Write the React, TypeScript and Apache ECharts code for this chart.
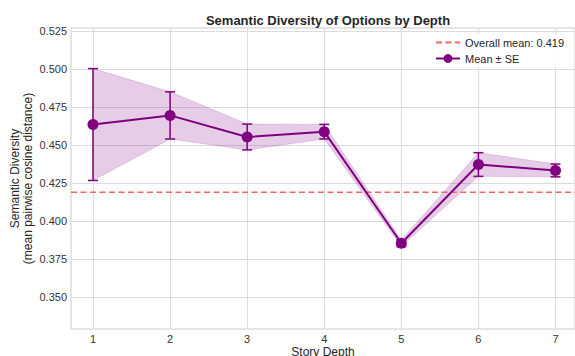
import React, { useEffect, useRef } from "react";
import * as echarts from "echarts";

const depths = [1, 2, 3, 4, 5, 6, 7];
const means = [0.4635, 0.4695, 0.4553, 0.4588, 0.3854, 0.4372, 0.4333];
const ses = [0.0368, 0.0155, 0.0085, 0.0048, 0.0022, 0.0078, 0.0042];
const overallMean = 0.419;
const yTicks = [0.35, 0.375, 0.4, 0.425, 0.45, 0.475, 0.5, 0.525];
const xTicks = [1, 2, 3, 4, 5, 6, 7];

const X_MIN = 0.7146;
const X_MAX = 7.253;
const Y_MIN = 0.329;
const Y_MAX = 0.527;

const PURPLE = "#800080";
const FONT = "Liberation Sans";

export default function App() {
  const ref = useRef<HTMLDivElement>(null);
  useEffect(() => {
    if (!ref.current) return;
    const chart = echarts.init(ref.current, undefined, { renderer: "svg" });
    const meanData = depths.map((d, i) => [d, means[i]]);
    const errData = depths.map((d, i) => [d, means[i] - ses[i], means[i] + ses[i]]);
    const meanName = `Overall mean: ${overallMean.toFixed(3)}`;
    chart.setOption({
      animation: false,
      backgroundColor: "#fff",
      textStyle: { fontFamily: FONT },
      title: {
        text: "Semantic Diversity of Options by Depth",
        left: 323,
        textAlign: "center",
        top: 9,
        textStyle: { fontFamily: FONT, fontSize: 13, fontWeight: "bold", color: "#262626" },
      },
      legend: {
        orient: "vertical",
        left: 431,
        top: 34,
        itemWidth: 24,
        itemHeight: 11,
        itemGap: 5,
        padding: [3, 10, 3, 4],
        backgroundColor: "rgba(255,255,255,0.9)",
        textStyle: { fontFamily: FONT, fontSize: 11, color: "#262626" },
        data: [
          { name: meanName, itemStyle: { opacity: 0 } },
          { name: "Mean ± SE" },
        ],
      },
      grid: {
        left: 71,
        right: 0,
        top: 28,
        bottom: 27,
        outerBoundsMode: "none",
        containLabel: false,
        show: true,
        borderColor: "#cccccc",
        borderWidth: 1,
        backgroundColor: "#fff",
      },
      xAxis: {
        type: "value",
        min: X_MIN,
        max: X_MAX,
        name: "Story Depth",
        nameLocation: "middle",
        nameGap: 17,
        nameMoveOverlap: false,
        nameTextStyle: { fontFamily: FONT, fontSize: 12, color: "#262626" },
        axisLine: { show: false },
        axisTick: { show: false, customValues: xTicks },
        axisLabel: {
          customValues: xTicks,
          fontFamily: FONT,
          fontSize: 11,
          color: "#333",
          margin: 4,
        },
        splitLine: { show: true, lineStyle: { color: "#dcdcdc", width: 1 } },
      },
      yAxis: {
        type: "value",
        min: Y_MIN,
        max: Y_MAX,
        name: "Semantic Diversity\n(mean pairwise cosine distance)",
        nameLocation: "middle",
        nameGap: 37,
        nameMoveOverlap: false,
        nameTextStyle: { fontFamily: FONT, fontSize: 12, color: "#262626", lineHeight: 13 },
        axisLine: { show: false },
        axisTick: { show: false, customValues: yTicks },
        axisLabel: {
          customValues: yTicks,
          fontFamily: FONT,
          fontSize: 11,
          color: "#333",
          margin: 4,
          formatter: (v: number) => v.toFixed(3),
        },
        splitLine: { show: true, lineStyle: { color: "#dcdcdc", width: 1 } },
      },
      series: [
        {
          name: "band",
          type: "custom",
          silent: true,
          z: 1,
          data: errData,
          renderItem: (params: any, api: any) => {
            if (params.dataIndex !== 0) return null;
            const upper = errData.map((d) => api.coord([d[0], d[2]]));
            const lower = errData.map((d) => api.coord([d[0], d[1]])).reverse();
            return {
              type: "polygon",
              shape: { points: upper.concat(lower) },
              style: { fill: "rgba(128,0,128,0.2)", stroke: "rgba(128,0,128,0.15)", lineWidth: 1 },
            };
          },
        },
        {
          name: meanName,
          type: "line",
          z: 2,
          symbol: "none",
          data: [
            [X_MIN, overallMean],
            [X_MAX, overallMean],
          ],
          itemStyle: { color: "#f46464" },
          lineStyle: { color: "#f46464", width: 1.5, type: [6, 3.5] },
        },
        {
          name: "errbars",
          type: "custom",
          silent: true,
          z: 3,
          data: errData,
          renderItem: (params: any, api: any) => {
            const x = api.value(0);
            const lo = api.coord([x, api.value(1)]);
            const hi = api.coord([x, api.value(2)]);
            const st = { stroke: PURPLE, lineWidth: 1.5 };
            return {
              type: "group",
              children: [
                { type: "line", shape: { x1: lo[0], y1: lo[1], x2: hi[0], y2: hi[1] }, style: st },
                { type: "line", shape: { x1: lo[0] - 5, y1: lo[1], x2: lo[0] + 5, y2: lo[1] }, style: st },
                { type: "line", shape: { x1: hi[0] - 5, y1: hi[1], x2: hi[0] + 5, y2: hi[1] }, style: st },
              ],
            };
          },
        },
        {
          name: "Mean ± SE",
          type: "line",
          z: 4,
          symbol: "circle",
          symbolSize: 11,
          data: meanData,
          itemStyle: { color: PURPLE },
          lineStyle: { color: PURPLE, width: 2 },
        },
      ],
    });
    return () => chart.dispose();
  }, []);
  return <div ref={ref} style={{ width: 575, height: 356, position: "absolute", left: 0, top: 0 }} />;
}
